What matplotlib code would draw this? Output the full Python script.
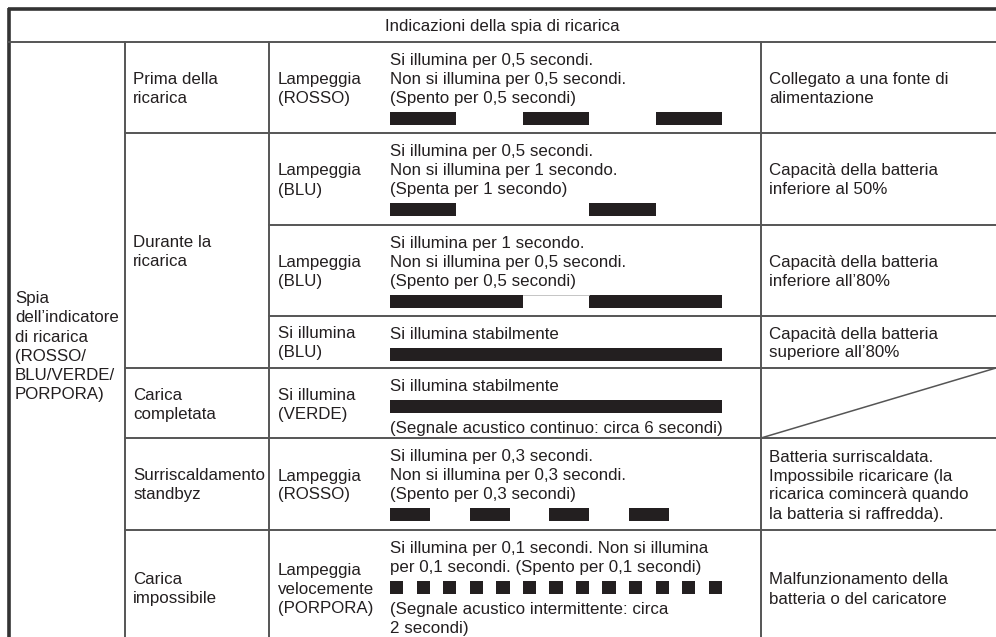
import matplotlib
matplotlib.use('Agg')
import matplotlib.pyplot as plt
from matplotlib.transforms import Affine2D

plt.rcParams['font.family'] = ['Liberation Sans', 'DejaVu Sans']

# testo della tabella
header = 'Indicazioni della spia di ricarica'
indicator = ['Spia', 'dell’indicatore', 'di ricarica', '(ROSSO/', 'BLU/VERDE/', 'PORPORA)']
stages = [['Prima della', 'ricarica'], ['Durante la', 'ricarica'], ['Carica', 'completata'],
          ['Surriscaldamento', 'standbyz'], ['Carica', 'impossibile']]
stage_rows = [1, 3, 1, 1, 1]  # quante righe occupa ogni fase
modes = [['Lampeggia', '(ROSSO)'], ['Lampeggia', '(BLU)'], ['Lampeggia', '(BLU)'],
         ['Si illumina', '(BLU)'], ['Si illumina', '(VERDE)'], ['Lampeggia', '(ROSSO)'],
         ['Lampeggia', 'velocemente', '(PORPORA)']]
timing_text = [
    ['Si illumina per 0,5 secondi.', 'Non si illumina per 0,5 secondi.', '(Spento per 0,5 secondi)'],
    ['Si illumina per 0,5 secondi.', 'Non si illumina per 1 secondo.', '(Spenta per 1 secondo)'],
    ['Si illumina per 1 secondo.', 'Non si illumina per 0,5 secondi.', '(Spento per 0,5 secondi)'],
    ['Si illumina stabilmente'],
    ['Si illumina stabilmente'],
    ['Si illumina per 0,3 secondi.', 'Non si illumina per 0,3 secondi.', '(Spento per 0,3 secondi)'],
    ['Si illumina per 0,1 secondi. Non si illumina', 'per 0,1 secondi. (Spento per 0,1 secondi)'],
]
timing_note = [[], [], [], [], ['(Segnale acustico continuo: circa 6 secondi)'], [],
               ['(Segnale acustico intermittente: circa', '2 secondi)']]
# schema di lampeggio: secondi acceso, secondi spento, numero di impulsi
on_sec = [0.5, 0.5, 1.0, 2.5, 2.5, 0.3, 0.1]
off_sec = [0.5, 1.0, 0.5, 0.0, 0.0, 0.3, 0.1]
pulses = [3, 2, 2, 1, 1, 4, 13]
meaning = [['Collegato a una fonte di', 'alimentazione'],
           ['Capacità della batteria', 'inferiore al 50%'],
           ['Capacità della batteria', 'inferiore all’80%'],
           ['Capacità della batteria', 'superiore all’80%'],
           [],
           ['Batteria surriscaldata.', 'Impossibile ricaricare (la',
            'ricarica comincerà quando', 'la batteria si raffredda).'],
           ['Malfunzionamento della', 'batteria o del caricatore']]

# layout in pixel
W, H = 996, 637
FS = 12.2
LINE = 19
INK = '#231f20'
GRID = '#555555'
X_COL = [8, 125, 269, 761, 996]
X_TXT = [15, 133, 278, 390, 769]
X_BAR = 390
PX_PER_SEC = 132.8
row_top = [42, 133, 225, 316, 368, 438, 530]
row_bot = row_top[1:] + [646]

fig = plt.figure(figsize=(W / 100, H / 100), dpi=100)
ax = fig.add_axes([0, 0, 1, 1])


def block(x, center, lines, ha='left'):
    n = len(lines)
    for i, s in enumerate(lines):
        yc = center + (i - (n - 1) / 2) * LINE
        ax.text(x, yc + 6, s, ha=ha, va='baseline', fontsize=FS, color=INK)


# bordi e righe
ax.plot([X_COL[0], W], [8.5, 8.5], color='#333333', lw=2.6, solid_capstyle='butt')
ax.plot([8.5, 8.5], [7.5, H], color='#333333', lw=2.6, solid_capstyle='butt')
ax.plot([X_COL[0], W], [42, 42], color=GRID, lw=1.4)
for x in X_COL[1:4]:
    ax.plot([x, x], [42, H], color=GRID, lw=1.4)

stage_start = []
k = 0
for n in stage_rows:
    stage_start.append(k)
    k += n
for i in range(1, len(row_top)):
    x0 = X_COL[1] if i in stage_start else X_COL[2]
    ax.plot([x0, W], [row_top[i], row_top[i]], color=GRID, lw=1.4)

# diagonale nella cella vuota
empty = meaning.index([])
ax.plot([X_COL[3], W], [row_bot[empty], row_top[empty]], color=GRID, lw=1.1)

# intestazione
ax.text((X_COL[0] + W) / 2, 31, header, ha='center', va='baseline', fontsize=FS, color=INK)

# colonna 1
block(X_TXT[0], 345, indicator)

# colonna 2
for s, n, lines in zip(stage_start, stage_rows, stages):
    block(X_TXT[1], (row_top[s] + row_bot[s + n - 1]) / 2, lines)

# colonne 3, 4, 5
for i in range(len(modes)):
    c = (row_top[i] + row_bot[i]) / 2
    block(X_TXT[2], c, modes[i])
    block(X_TXT[4], c, meaning[i])

    y = row_top[i] + 17
    for s in timing_text[i]:
        ax.text(X_TXT[3], y + 6, s, ha='left', va='baseline', fontsize=FS, color=INK)
        y += LINE
    bar_top = y - LINE + 15
    tt = Affine2D().scale(PX_PER_SEC, 1).translate(X_BAR, 0) + ax.transData
    period = on_sec[i] + off_sec[i]
    segs = [(p * period, on_sec[i]) for p in range(pulses[i])]
    ax.broken_barh(segs, (bar_top, 13), transform=tt, facecolor=INK, edgecolor='none')
    if i == 2:
        ax.plot([on_sec[i], period], [bar_top, bar_top], transform=tt, color='#bbbbbb', lw=0.6)
    y = bar_top + 13 + 14
    for s in timing_note[i]:
        ax.text(X_TXT[3], y + 6, s, ha='left', va='baseline', fontsize=FS, color=INK)
        y += LINE

ax.set_xlim(0, W)
ax.set_ylim(H, 0)
ax.axis('off')

fig.savefig('out.png', dpi=100, facecolor='white')
